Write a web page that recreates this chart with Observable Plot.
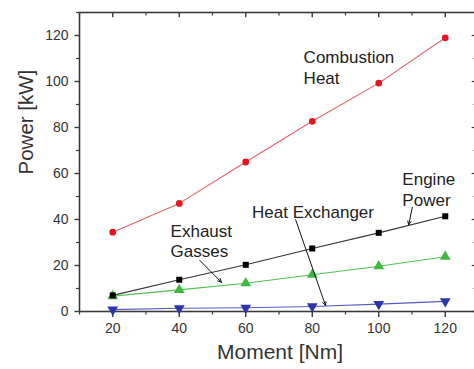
<!DOCTYPE html>
<html>
<head>
<meta charset="utf-8">
<script src="https://cdn.jsdelivr.net/npm/d3@7"></script>
<script src="https://cdn.jsdelivr.net/npm/@observablehq/plot@0.6"></script>
<style>
  html, body { margin: 0; padding: 0; background: #fff; }
  svg { display: block; }
</style>
</head>
<body>
<div id="chart"></div>
<script>
// ---- data ----
const moment = [20, 40, 60, 80, 100, 120];
const combustionHeat = [34.5, 47, 65, 82.7, 99.3, 119];
const enginePower = [7, 13.8, 20.3, 27.4, 34.2, 41.4];
const exhaustGasses = [6.7, 9.4, 12.3, 16, 19.7, 23.8];
const heatExchanger = [0.8, 1.4, 1.6, 2.2, 3.2, 4.4];

const xTicks = [20, 40, 60, 80, 100, 120];
const xMinorTicks = [10, 30, 50, 70, 90, 110, 130];
const yTicks = [0, 20, 40, 60, 80, 100, 120];
const yMinorTicks = [10, 30, 50, 70, 90, 110, 130];

const labelText = ["Combustion\nHeat", "Engine\nPower", "Heat Exchanger", "Exhaust\nGasses"];
const labelX = [77.4, 107.1, 61.9, 37.4];
const labelY = [106.5, 53.3, 43.6, 30.9];

const arrowX1 = [110.1, 75.0, 46.2];
const arrowY1 = [45.3, 39.9, 22.2];
const arrowX2 = [109.0, 84.0, 52.7];
const arrowY2 = [37.7, 2.6, 12.7];

const xLabel = "Moment [Nm]";
const yLabel = "Power [kW]";

// ---- build tables ----
const series = [
  {name: "Combustion Heat", values: combustionHeat, line: "#e8606a", fill: "#e8141e", symbol: "circle", rotate: 0, r: 3.4},
  {name: "Engine Power", values: enginePower, line: "#333333", fill: "#000000", symbol: "square", rotate: 0, r: 3.4},
  {name: "Exhaust Gasses", values: exhaustGasses, line: "#4fc34f", fill: "#3fb83f", symbol: "triangle", rotate: 0, r: 4},
  {name: "Heat Exchanger", values: heatExchanger, line: "#5a5ac0", fill: "#2b35a8", symbol: "triangle", rotate: 180, r: 4}
];
const rows = series.flatMap(s => moment.map((m, i) => ({
  series: s.name, x: m, y: s.values[i], line: s.line, fill: s.fill, symbol: s.symbol, rotate: s.rotate, r: s.r
})));
const labels = labelText.map((t, i) => ({t, x: labelX[i], y: labelY[i]}));
const arrows = arrowX1.map((x1, i) => ({x1, y1: arrowY1[i], x2: arrowX2[i], y2: arrowY2[i]}));

const axisColor = "#3a3a3a";
const textColor = "#333";
const [xMin, xMax] = [10, 130];
const [yMin, yMax] = [0, 130];

const marks = [
  // minor ticks
  Plot.axisX(xMinorTicks, {anchor: "bottom", tickSize: 3.5, text: null, stroke: axisColor, strokeWidth: 1.2}),
  Plot.axisY(yMinorTicks, {anchor: "left", tickSize: 3, text: null, stroke: axisColor, strokeWidth: 1.2}),
  // inward ticks on the top and right edges
  Plot.ruleX(xMinorTicks, {x: d => d, y1: yMax, y2: yMax - 1.5, stroke: axisColor, strokeWidth: 1.2}),
  Plot.ruleX(xTicks, {x: d => d, y1: yMax, y2: yMax - 2.3, stroke: axisColor, strokeWidth: 1.4}),
  Plot.ruleY(yMinorTicks, {y: d => d, x1: xMax, x2: xMax - 1.5, stroke: "#999", strokeWidth: 1}),
  Plot.ruleY(yTicks, {y: d => d, x1: xMax, x2: xMax - 1.9, stroke: axisColor, strokeWidth: 1.2}),
  // major ticks
  Plot.axisX(xTicks, {anchor: "bottom", tickSize: 6, tickPadding: 6, fontSize: 14, color: textColor, stroke: axisColor, strokeWidth: 1.4}),
  Plot.axisY(yTicks, {anchor: "left", tickSize: 4.5, tickPadding: 6.5, fontSize: 14, color: textColor, stroke: axisColor, strokeWidth: 1.4}),
  Plot.frame({stroke: axisColor, strokeWidth: 1.6}),
  // axis labels
  Plot.text([yLabel], {frameAnchor: "left", rotate: -90, dx: -53, dy: 12.5, fontSize: 20.5, fill: textColor}),
  Plot.text([xLabel], {frameAnchor: "bottom", dx: 1, dy: 47, fontSize: 21, fill: textColor}),
  // series
  Plot.line(rows, {x: "x", y: "y", z: "series", stroke: "line", strokeWidth: 1.1}),
  Plot.dot(rows, {x: "x", y: "y", symbol: "symbol", fill: "fill", rotate: "rotate", r: "r", stroke: "none"}),
  // annotations
  Plot.arrow(arrows, {x1: "x1", y1: "y1", x2: "x2", y2: "y2", stroke: "#111", strokeWidth: 1, headLength: 6, headAngle: 50}),
  Plot.text(labels, {x: "x", y: "y", text: "t", textAnchor: "start", lineAnchor: "middle", lineHeight: 1.22, fontSize: 17, fill: "#222"})
];

const chart = Plot.plot({
  width: 474,
  height: 369,
  marginLeft: 79,
  marginRight: -4,
  marginTop: 12,
  marginBottom: 58,
  style: {fontFamily: "'Liberation Sans', Arial, sans-serif", background: "#fff", overflow: "hidden"},
  x: {domain: [xMin, xMax], axis: null},
  y: {domain: [yMin, yMax], axis: null},
  symbol: {type: "identity"},
  color: {type: "identity"},
  r: {type: "identity"},
  marks
});
document.getElementById("chart").appendChild(chart);
</script>
</body>
</html>
